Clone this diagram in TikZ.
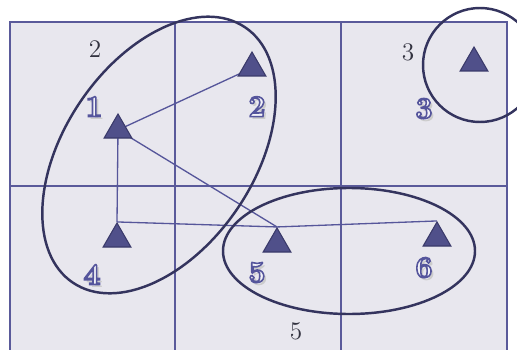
\documentclass[tikz,border=0pt]{standalone}
\usetikzlibrary{positioning,shapes.geometric}
\definecolor{cellbg}{HTML}{E8E7EE}
\definecolor{gridblue}{HTML}{5A5A9A}
\definecolor{ringnavy}{HTML}{34345E}
\definecolor{trifill}{HTML}{50508A}
\definecolor{tridraw}{HTML}{3A3A6A}
\definecolor{edgeblue}{HTML}{56569A}
\definecolor{numblue}{HTML}{55559C}
\definecolor{numfill}{HTML}{F2F2F8}
\definecolor{zonegray}{HTML}{333340}
\pgfdeclarelayer{back}
\pgfdeclarelayer{links}
\pgfsetlayers{back,links,main}
% outlined digit with a soft shadow
\newcommand{\bignum}[1]{%
  \makebox[0pt][l]{\hspace{1.4pt}\raisebox{-1.6pt}{\textcolor{black!20}{#1}}}%
  {\color{numfill}\special{pdf:literal direct 2 Tr 0.9 w 0.333 0.333 0.612 RG}#1%
   \special{pdf:literal direct 0 Tr}}}

\begin{document}
\begin{tikzpicture}[
    x=0.02cm, y=0.02cm,
    gridline/.style={draw=gridblue, line width=0.8pt},
    tri/.style={
      regular polygon, regular polygon sides=3,
      minimum size=0.64cm, inner sep=0pt,
      fill=trifill, draw=tridraw, line width=0.6pt
    },
    link/.style={edgeblue, line width=0.75pt},
    ring/.style={ringnavy, line width=1.4pt},
    num/.style={font=\LARGE\bfseries, inner sep=0pt},
    zone/.style={font=\Large, text=zonegray, inner sep=0pt}
  ]
  \useasboundingbox (0,0) rectangle (517,349);
  \clip (0,0) rectangle (517,349);

  % grid of cells
  \begin{pgfonlayer}{back}
    \fill[white] (0,0) rectangle (517,349);
    \draw[gridline, fill=cellbg] (10,-5) rectangle (507,327);
    \draw[gridline] (175,-5) -- (175,327) (341,-5) -- (341,327)
      (10,163) -- (507,163);
  \end{pgfonlayer}

  % cell numbers
  \node[zone] (z2) at (95,300) {2};
  \node[zone] (z3) at (408,297) {3};
  \node[zone] (z5) at (296,18) {5};

  % points
  \node[tri] (t1) at (118,219) {};
  \node[tri] (t2) at (252,281) {};
  \node[tri] (t3) at (474,286) {};
  \node[tri] (t4) at (117,110) {};
  \node[tri] (t5) at (277,105) {};
  \node[tri] (t6) at (437,111) {};

  \node[num] (n1) at (94,241) {\bignum{1}};
  \node[num] (n2) at (257,241) {\bignum{2}};
  \node[num] (n3) at (424,239) {\bignum{3}};
  \node[num] (n4) at (92,73) {\bignum{4}};
  \node[num] (n5) at (257,75) {\bignum{5}};
  \node[num] (n6) at (424,80) {\bignum{6}};

  \begin{pgfonlayer}{links}
    \draw[link] (t1.center) -- (t2.center);
    \draw[link] (t1.center) -- (t4.corner 1);
    \draw[link] (t1.center) -- (t5.corner 1);
    \draw[link] (t4.corner 1) -- (t5.corner 1);
    \draw[link] (t5.corner 1) -- (t6.corner 1);
  \end{pgfonlayer}

  % clusters
  \draw[ring, rotate around={56:(159,194)}] (159,194)
    ellipse [x radius=154, y radius=95];
  \draw[ring] (349,98) ellipse [x radius=126, y radius=63];
  \draw[ring] (480,284) circle [radius=57];
\end{tikzpicture}
\end{document}
